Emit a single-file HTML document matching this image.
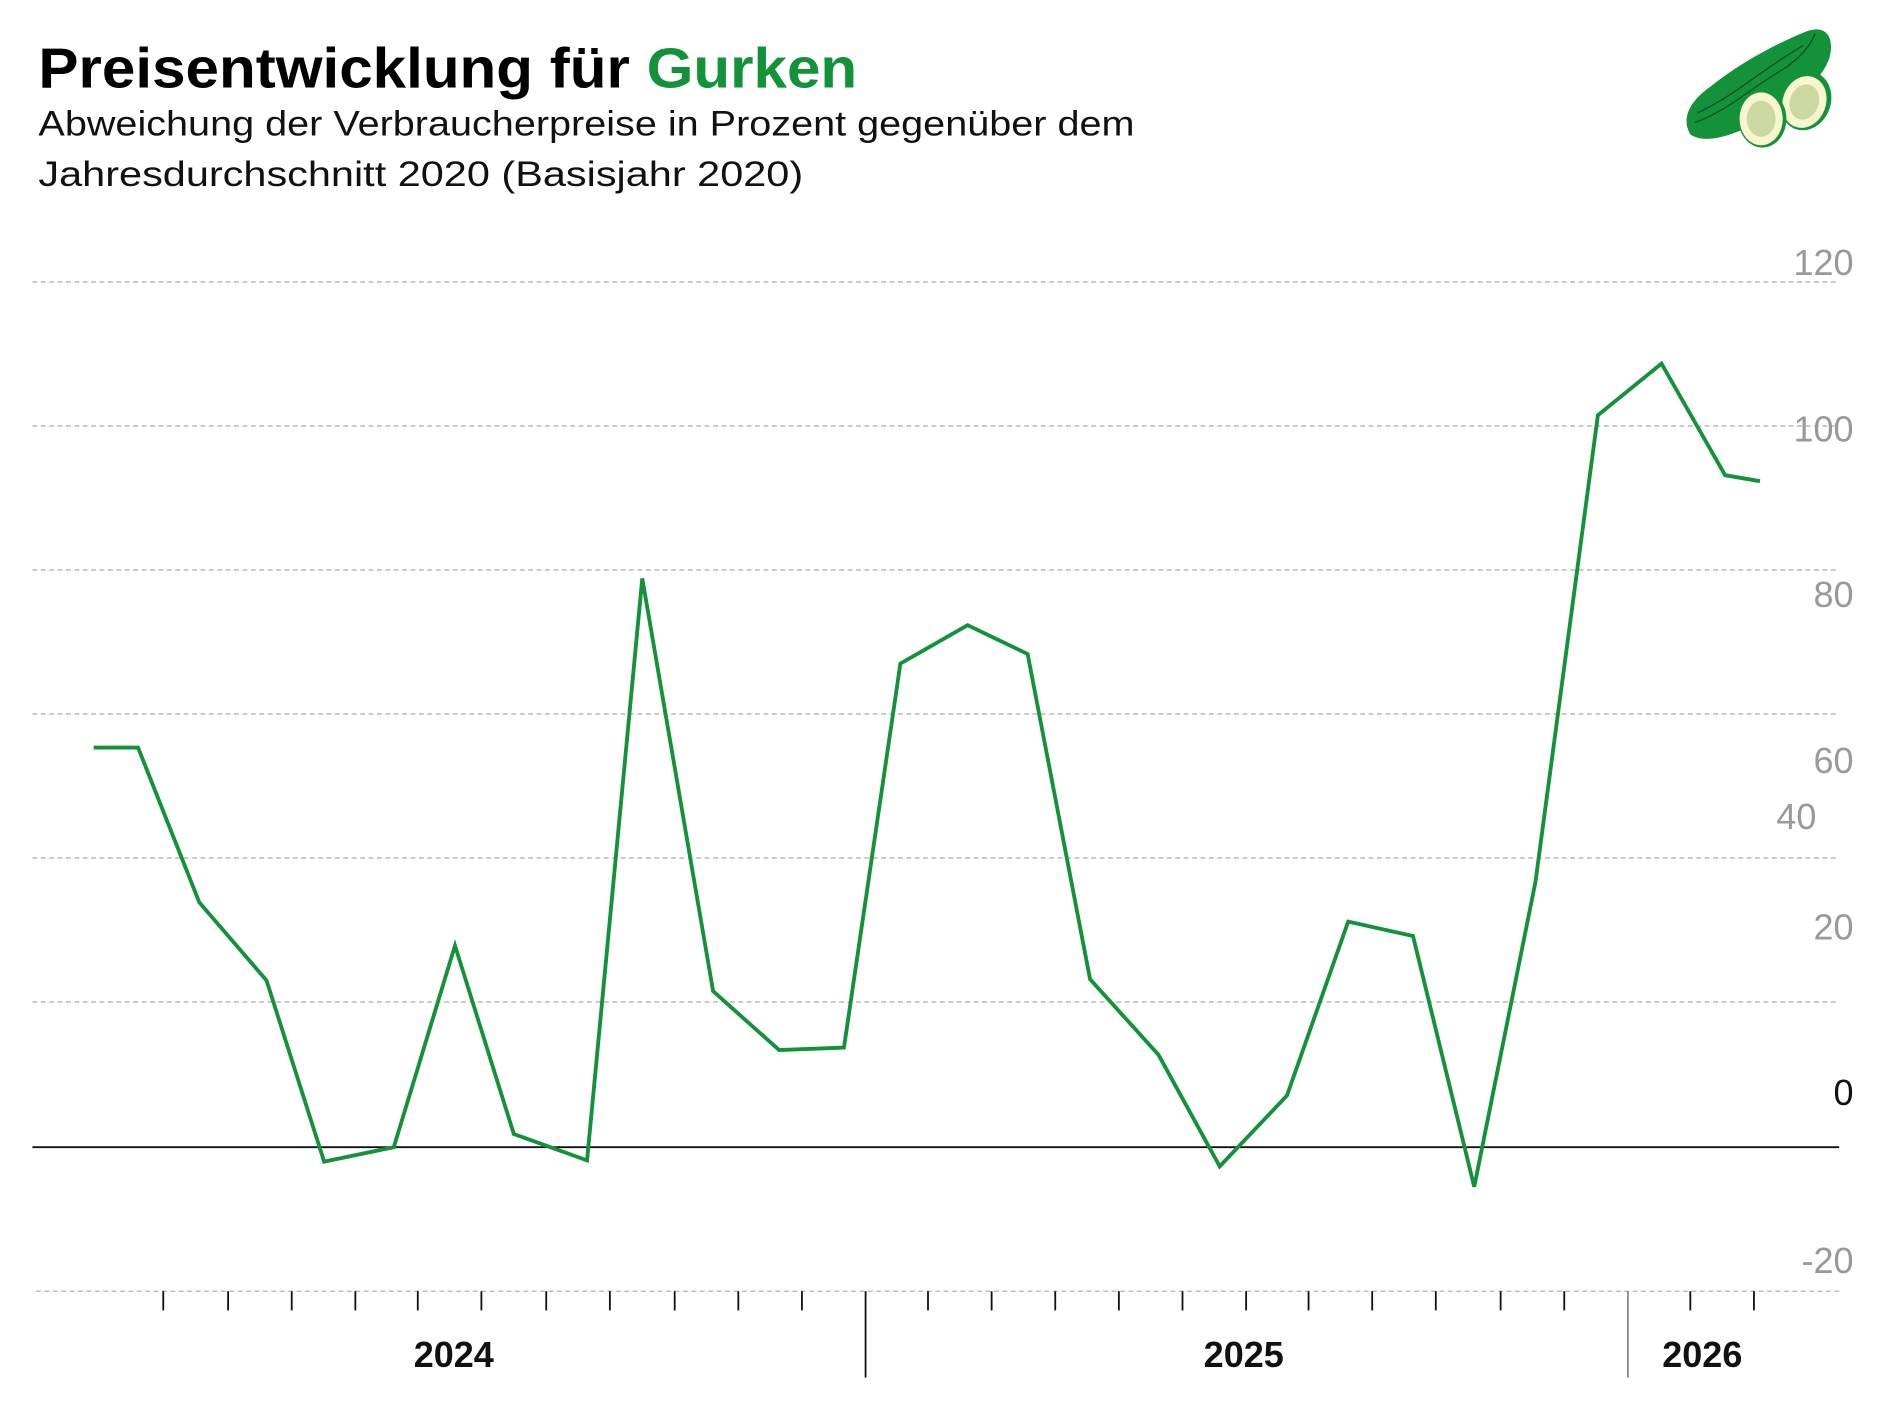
<!DOCTYPE html>
<html><head><meta charset="utf-8"><style>
html,body{margin:0;padding:0;background:#fff}
svg{display:block}
text{font-family:"Liberation Sans",sans-serif}
</style></head><body>
<svg width="1880" height="1410" viewBox="0 0 1566 1175" preserveAspectRatio="none" xmlns="http://www.w3.org/2000/svg">
<text x="32" y="73" font-size="47" font-weight="bold" textLength="682" lengthAdjust="spacingAndGlyphs">Preisentwicklung für <tspan fill="#14923a">Gurken</tspan></text>
<text x="32" y="113" font-size="29" fill="#111" textLength="913" lengthAdjust="spacingAndGlyphs">Abweichung der Verbraucherpreise in Prozent gegenüber dem</text>
<text x="32" y="155" font-size="29" fill="#111" textLength="637" lengthAdjust="spacingAndGlyphs">Jahresdurchschnitt 2020 (Basisjahr 2020)</text>
<g>
<path d="M1408,112 C1400,98 1408,84 1425,72 C1450,52 1480,36 1505,26 C1522,20 1528,32 1524,48 C1518,66 1498,82 1472,98 C1450,110 1422,122 1408,112 Z" fill="#14923a"/>
<path d="M1412,102 C1440,92 1460,72 1485,58 C1500,48 1508,38 1512,28 M1414,94 C1445,80 1470,56 1502,38" stroke="#0b4a20" stroke-width="1" fill="none"/>
<ellipse cx="1504" cy="84" rx="21" ry="25" transform="rotate(20 1504 84)" fill="#14923a"/>
<ellipse cx="1503" cy="85" rx="18" ry="22" transform="rotate(20 1503 85)" fill="#f8f5cf"/>
<ellipse cx="1503" cy="85" rx="12" ry="15" transform="rotate(20 1503 85)" fill="#c9d9a0"/>
<ellipse cx="1468" cy="99" rx="20" ry="24" fill="#14923a"/>
<ellipse cx="1467" cy="99" rx="18" ry="22" fill="#f8f5cf"/>
<ellipse cx="1467" cy="99" rx="12" ry="15" fill="#c9d9a0"/>
</g>
<g stroke="#aaa" stroke-width="1" stroke-dasharray="4,3">
<line x1="27" y1="235" x2="1532" y2="235"/>
<line x1="27" y1="355" x2="1532" y2="355"/>
<line x1="27" y1="475" x2="1532" y2="475"/>
<line x1="27" y1="595" x2="1532" y2="595"/>
<line x1="27" y1="715" x2="1532" y2="715"/>
<line x1="27" y1="835" x2="1532" y2="835"/>
<line x1="30" y1="1076" x2="1532" y2="1076"/>
</g>
<line x1="27" y1="956" x2="1532" y2="956" stroke="#111" stroke-width="1.5"/>
<g font-size="30" fill="#999" text-anchor="end">
<text x="1544" y="229">120</text>
<text x="1544" y="368">100</text>
<text x="1544" y="506">80</text>
<text x="1544" y="644">60</text>
<text x="1513" y="691">40</text>
<text x="1544" y="783">20</text>
<text x="1544" y="921" fill="#111">0</text>
<text x="1544" y="1061">-20</text>
</g>
<g stroke="#111" stroke-width="1.5">
<line x1="136" y1="1076" x2="136" y2="1092"/><line x1="190" y1="1076" x2="190" y2="1092"/>
<line x1="243" y1="1076" x2="243" y2="1092"/><line x1="296" y1="1076" x2="296" y2="1092"/>
<line x1="348" y1="1076" x2="348" y2="1092"/><line x1="401" y1="1076" x2="401" y2="1092"/>
<line x1="455" y1="1076" x2="455" y2="1092"/><line x1="508" y1="1076" x2="508" y2="1092"/>
<line x1="562" y1="1076" x2="562" y2="1092"/><line x1="615" y1="1076" x2="615" y2="1092"/>
<line x1="668" y1="1076" x2="668" y2="1092"/>
<line x1="721" y1="1076" x2="721" y2="1148"/>
<line x1="773" y1="1076" x2="773" y2="1092"/><line x1="826" y1="1076" x2="826" y2="1092"/>
<line x1="879" y1="1076" x2="879" y2="1092"/><line x1="932" y1="1076" x2="932" y2="1092"/>
<line x1="985" y1="1076" x2="985" y2="1092"/><line x1="1038" y1="1076" x2="1038" y2="1092"/>
<line x1="1090" y1="1076" x2="1090" y2="1092"/><line x1="1143" y1="1076" x2="1143" y2="1092"/>
<line x1="1196" y1="1076" x2="1196" y2="1092"/><line x1="1250" y1="1076" x2="1250" y2="1092"/>
<line x1="1303" y1="1076" x2="1303" y2="1092"/>
<line x1="1408" y1="1076" x2="1408" y2="1092"/><line x1="1461" y1="1076" x2="1461" y2="1092"/>
</g>
<line x1="1356" y1="1076" x2="1356" y2="1148" stroke="#888" stroke-width="1.5"/>
<g font-size="30" font-weight="bold" text-anchor="middle" fill="#111">
<text x="378" y="1139">2024</text>
<text x="1036" y="1139">2025</text>
<text x="1418" y="1139">2026</text>
</g>
<polyline fill="none" stroke="#14923a" stroke-width="3.2" stroke-linejoin="miter" points="78,623 115,623 166,752 222,817 270,968 328,956 379,788 428,945 489,967 535,482 594,826 649,875 703,873 750,553 806,521 856,545 908,816 965,879 1016,972 1072,913 1123,768 1177,780 1228,989 1279,735 1331,346 1384,303 1437,396 1466,401"/>
</svg>
</body></html>
